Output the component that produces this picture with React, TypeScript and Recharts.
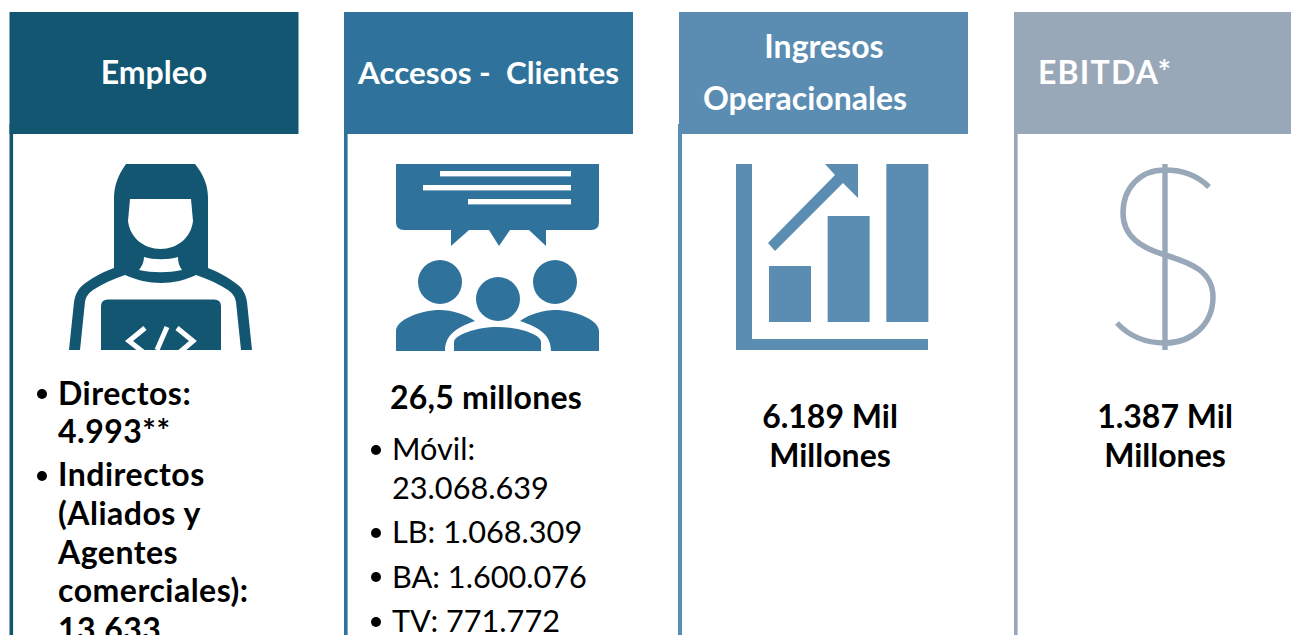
import { BarChart, Bar, XAxis, YAxis } from 'recharts'

// heights of the three columns in the "Ingresos" pictogram
const growthSteps = ['Bajo', 'Medio', 'Alto']
const growthValues = [56, 106, 158]

const headerColors = ['#135672', '#2f739d', '#5b8db3', '#98a8b8']
const cardLefts = [9.5, 344, 679, 1014]

const empleoLines = ['Directos:', '4.993**', 'Indirectos', '(Aliados y', 'Agentes', 'comerciales):', '13.633']
const empleoBaselines = [405, 443, 486, 525, 564, 602, 641]
const accesosTotal = '26,5 millones'
const accesosLines = ['Móvil:', '23.068.639', 'LB: 1.068.309', 'BA: 1.600.076', 'TV: 771.772']
const accesosBaselines = [460, 499, 543, 588, 632]
const ingresosLines = ['6.189 Mil', 'Millones']
const ebitdaLines = ['1.387 Mil', 'Millones']

const chartData = growthSteps.map((step, i) => ({ step, value: growthValues[i] }))
const FONT = 'Lato, Carlito, sans-serif'

function Card({ i }: { i: number }) {
  const x = cardLefts[i]
  const w = i === 3 ? 1291 - x : 289
  return (
    <g fill={headerColors[i]}>
      <rect x={x} y={12} width={w} height={122} />
      <rect x={i === 2 ? x - 1 : x} y={124} width={i === 2 ? 4 : 3.6} height={511} />
    </g>
  )
}

function PersonIcon() {
  const c = headerColors[0]
  return (
    <g>
      <path
        fill={c}
        d="M126,164 H195 C204,175 208,186 208,198 V268 C221,273 232,280 238,285 C243,289 246,295 247,302 L252,350 H241 L236,302 C235,296 232,293 228,290 C219,284 208,279 196,275 C186,280 173,283 161,283 C149,283 136,280 125,275 C113,279 102,284 93,290 C89,293 86,296 85,302 L80,350 H69 L74,302 C75,295 78,289 83,285 C89,280 100,273 114,268 V198 C114,186 118,175 126,164 Z"
      />
      <path fill="#fff" d="M130,199 H191 L193,221 C191,238 177,249 160.5,249 C144,249 130,238 128,221 Z" />
      <path fill="#fff" d="M144,257 C154,260 168,260 178,257 C178,262 179,266 182,270 C168,273 153,273 139,270 C142,266 144,262 144,257 Z" />
      <path fill={c} d="M101,350 V306 Q101,299.5 108,299.5 H214 Q221,299.5 221,306 V350 Z" />
      <g fill="none" stroke="#fff" strokeWidth={5}>
        <path d="M145,328 L129,341 L143,352" />
        <path d="M167,327 L157,350" />
        <path d="M177,328 L193,341 L180,352" />
      </g>
      <rect x={60} y={350} width={200} height={6} fill="#fff" />
    </g>
  )
}

function PeopleIcon() {
  const c = headerColors[1]
  return (
    <g fill={c}>
      <path d="M396,164 H599 V222 Q599,230 591,230 H546 V246 L529,230 H510 L499,246 L489,230 H469 L451,246 V230 H404 Q396,230 396,222 Z" />
      <g fill="#fff">
        <rect x={440} y={171} width={131} height={5.4} />
        <rect x={423} y={185} width={148} height={5.4} />
        <rect x={468} y={199} width={103} height={5.4} />
      </g>
      <circle cx={440} cy={282} r={22} />
      <circle cx={555} cy={282} r={22} />
      <circle cx={498} cy={299} r={22} />
      <path d="M396,351 V331 C396,320 420,310 440,310 C452,310 465,314 475,321 C455,328 445,336 445,351 Z" />
      <path d="M599,351 V331 C599,320 575,310 555,310 C543,310 530,314 520,321 C541,328 551,336 551,351 Z" />
      <path d="M454,351 V342 C454,335 476,327 498,327 C520,327 541,335 541,342 V351 Z" />
    </g>
  )
}

function GrowthFrame() {
  return (
    <g fill={headerColors[2]}>
      <rect x={736} y={164} width={16} height={186} />
      <rect x={736} y={339} width={192} height={11} />
      <path d="M768,243 L775,251 L843,183 L858,198 V164 H825 L835,175 Z" />
    </g>
  )
}

function DollarIcon() {
  const c = headerColors[3]
  return (
    <g>
      <rect x={1162.3} y={164} width={5.4} height={186} fill={c} />
      <path
        fill="none"
        stroke={c}
        strokeWidth={5.5}
        d="M1209,187 C1198,176 1183,170 1165,170 C1140,170 1123,188 1123,213 C1123,237 1142,248 1165,255 C1192,263 1213,272 1213,297 C1213,324 1192,343 1165,343 C1145,343 1129,336 1117,323"
      />
    </g>
  )
}

function Label(props: { x: number; y: number; text: string; size: number; bold?: boolean; fill?: string; anchor?: 'start' | 'middle'; spacing?: number }) {
  const { x, y, text, size, bold, fill = '#000', anchor = 'start', spacing = 0 } = props
  return (
    <text x={x} y={y} fontSize={size} fontWeight={bold ? 700 : 400} fill={fill} textAnchor={anchor} letterSpacing={spacing} xmlSpace="preserve">
      {text}
    </text>
  )
}

export default function App() {
  return (
    <div style={{ position: 'absolute', left: 0, top: 0, width: 1291, height: 635, overflow: 'hidden', background: '#fff' }}>
      <svg width={1291} height={635} style={{ position: 'absolute', left: 0, top: 0 }} fontFamily={FONT}>
        {cardLefts.map((_, i) => (
          <Card key={i} i={i} />
        ))}
        <PersonIcon />
        <PeopleIcon />
        <GrowthFrame />
        <DollarIcon />

        <Label x={154} y={84} text="Empleo" size={32} bold fill="#fff" anchor="middle" />
        <Label x={358} y={84} text="Accesos -  Clientes" size={31.4} bold fill="#fff" />
        <Label x={824} y={58} text="Ingresos" size={32} bold fill="#fff" anchor="middle" />
        <Label x={703} y={110} text="Operacionales" size={32} bold fill="#fff" />
        <Label x={1038} y={84} text="EBITDA*" size={32} bold fill="#fff" spacing={1.2} />

        {empleoLines.map((t, i) => (
          <Label key={t} x={58} y={empleoBaselines[i]} text={t} size={32} bold spacing={0.5} />
        ))}
        <circle cx={42} cy={394} r={5} fill="#000" />
        <circle cx={42} cy={476} r={5} fill="#000" />

        <Label x={390} y={409} text={accesosTotal} size={32} bold spacing={0.2} />
        {accesosLines.map((t, i) => (
          <Label key={t} x={392} y={accesosBaselines[i]} text={t} size={30.7} />
        ))}
        {[450, 533, 577, 622].map((cy) => (
          <circle key={cy} cx={376} cy={cy} r={5} fill="#000" />
        ))}

        {ingresosLines.map((t, i) => (
          <Label key={t} x={830} y={428 + i * 39} text={t} size={32} bold anchor="middle" />
        ))}
        {ebitdaLines.map((t, i) => (
          <Label key={t} x={1165} y={428 + i * 39} text={t} size={32} bold anchor="middle" />
        ))}
      </svg>

      <div style={{ position: 'absolute', left: 761, top: 164 }}>
        <BarChart width={176} height={186} data={chartData} margin={{ top: 0, right: 0, bottom: 0, left: 0 }}>
          <XAxis dataKey="step" hide />
          <YAxis hide domain={[-28, 158]} />
          <Bar dataKey="value" fill={headerColors[2]} barSize={42} isAnimationActive={false} />
        </BarChart>
      </div>
    </div>
  )
}
